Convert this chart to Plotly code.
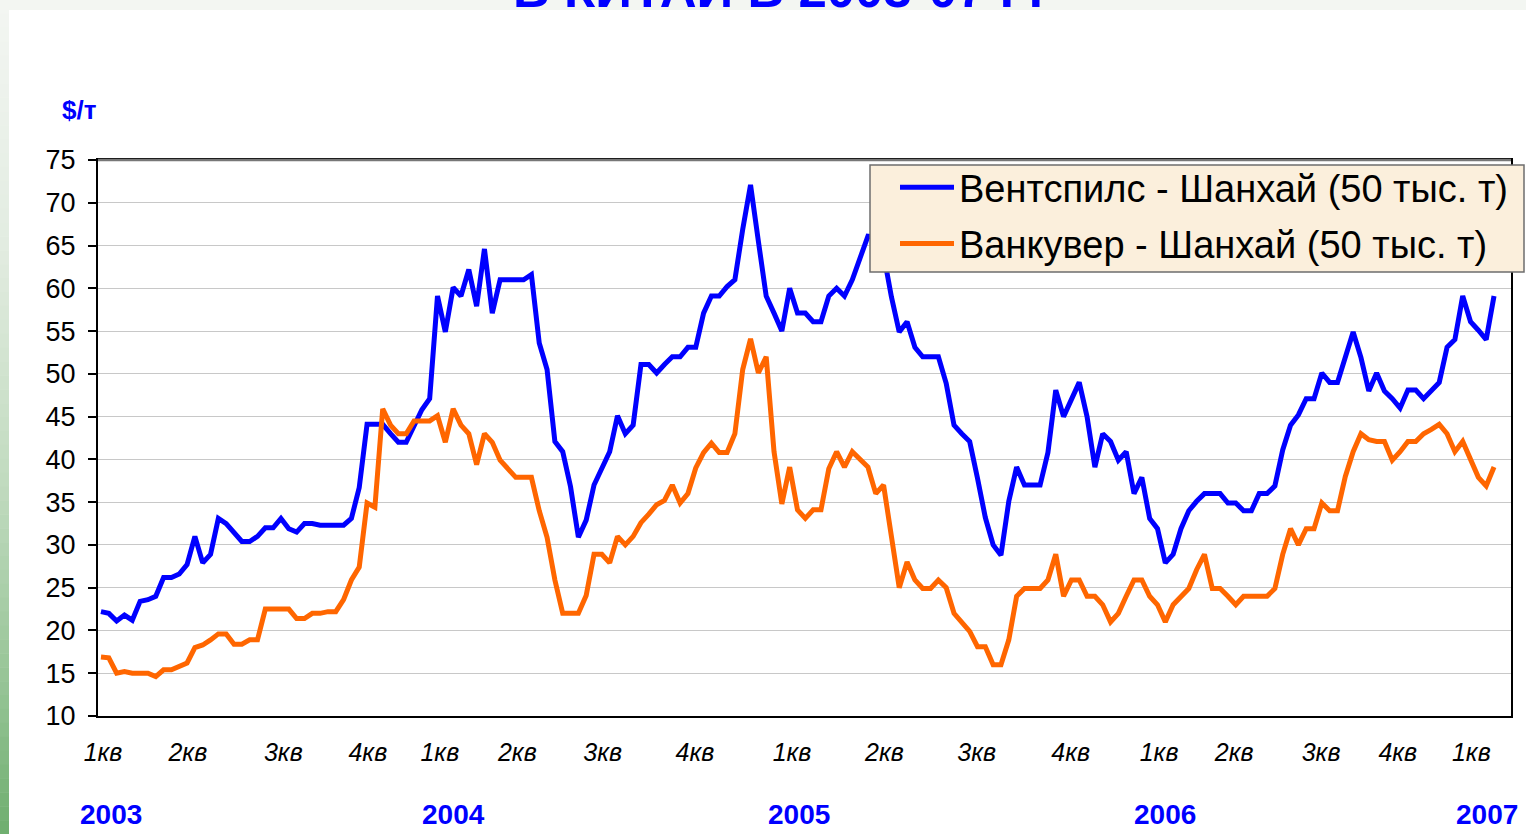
import plotly.graph_objects as go

# ---------------- data ----------------
ventspils = [
    22.2, 22.0, 21.1, 21.8, 21.2, 23.4, 23.6, 24.0, 26.2, 26.2, 26.6, 27.7, 31.0, 27.9, 28.9, 33.1, 32.5, 31.5,
    30.4, 30.4, 31.0, 32.0, 32.0, 33.1, 31.9, 31.5, 32.5, 32.5, 32.3, 32.3, 32.3, 32.3, 33.1, 36.7, 44.1,
    44.1, 44.1, 43.0, 42.0, 42.0, 43.9, 45.8, 47.1, 59.1, 54.9, 60.1, 59.1, 62.2, 57.9, 64.6,
    57.1, 61.0, 61.0, 61.0, 61.0, 61.6, 53.6, 50.5, 42.1, 40.9, 36.8, 30.9, 32.9, 37.0, 38.9, 40.9, 45.1, 43.0,
    44.0, 51.1, 51.1, 50.1, 51.1, 52.0, 52.0, 53.1, 53.1, 57.1, 59.1, 59.1, 60.2, 61.0, 66.9, 72.1, 65.5, 59.1,
    57.1, 55.0, 60.0, 57.1, 57.1, 56.1, 56.1, 59.1, 60.0, 59.1, 61.0, 63.6, 66.1,
    66.0, 64.0, 59.0,
    54.9, 56.1, 53.1, 52.0, 52.0, 52.0, 48.9, 44.0, 43.0, 42.1, 37.8, 33.2, 30.0, 28.8, 35.1, 39.1, 37.0, 37.0,
    37.0, 40.8, 48.1, 45.0, 46.9, 49.0, 45.0, 39.1, 43.0, 42.1, 39.9, 40.9, 36.0, 37.9, 33.1, 31.9, 27.9, 28.9,
    31.9, 34.0, 35.1, 36.0, 36.0, 36.0, 34.9, 34.9, 34.0, 34.0, 36.0, 36.0, 36.9, 41.1, 44.0, 45.2, 47.1, 47.1,
    50.1, 49.0, 49.0, 51.9, 54.9, 51.9, 48.0, 50.1, 48.0, 47.1, 46.0, 48.1, 48.1, 47.1, 48.0, 49.0, 53.1, 54.0,
    59.1, 56.1, 55.1, 54.0, 59.1,
]

vancouver = [
    16.9, 16.8, 15.0, 15.2, 15.0, 15.0, 15.0, 14.6, 15.4, 15.4, 15.8, 16.2, 18.0, 18.3, 18.9, 19.6, 19.6, 18.4,
    18.4, 18.9, 18.9, 22.5, 22.5, 22.5, 22.5, 21.4, 21.4, 22.0, 22.0, 22.2, 22.2, 23.6, 25.9, 27.4, 34.9,
    34.4, 45.9, 44.0, 43.0, 43.0, 44.5, 44.5, 44.5, 45.1, 42.0, 45.9, 44.0, 43.0, 39.4, 43.0,
    42.0, 39.9, 39.0, 37.9, 37.9, 37.9, 34.0, 30.9, 25.9, 22.0, 22.0, 22.0, 24.1, 28.9, 28.9, 27.9, 31.0, 30.0,
    31.0, 32.6, 33.6, 34.7, 35.2, 37.0, 34.9, 36.0, 39.0, 40.8, 41.9, 40.8, 40.8, 43.0, 50.5, 54.1, 50.1, 52.0,
    40.9, 34.8, 39.1, 34.1, 33.1, 34.1, 34.1, 38.9, 40.9, 39.1, 40.9, 39.9, 39.1, 36.0, 37.0, 31.0,
    25.0, 28.0, 25.9, 24.9, 24.9, 25.9, 25.0, 22.0, 21.0, 19.9, 18.1, 18.1, 16.0, 16.0, 18.9, 24.0, 24.9, 24.9,
    24.9, 25.9, 28.9, 24.0, 25.9, 25.9, 24.0, 24.0, 23.0, 21.0, 22.0, 24.0, 25.9, 25.9, 24.0, 23.0, 21.0, 23.0,
    24.0, 24.9, 27.1, 28.9, 24.9, 24.9, 24.0, 23.0, 24.0, 24.0, 24.0, 24.0, 24.9, 28.9, 31.9, 30.0, 31.9, 31.9,
    34.9, 34.0, 34.0, 38.0, 40.9, 43.0, 42.3, 42.1, 42.1, 39.9, 40.9, 42.1, 42.1, 43.0, 43.5, 44.1, 43.0, 40.9,
    42.1, 39.9, 37.9, 36.9, 39.1,
]

week_index = list(range(len(ventspils)))

quarter_labels = ["1кв", "2кв", "3кв", "4кв", "1кв", "2кв", "3кв", "4кв", "1кв",
                  "2кв", "3кв", "4кв", "1кв", "2кв", "3кв", "4кв", "1кв"]
quarter_pos = [0.26, 11.1, 23.3, 34.1, 43.3, 53.2, 64.1, 75.9, 88.3,
               100.1, 111.9, 123.9, 135.2, 144.8, 155.9, 165.7, 175.1]
year_labels = ["2003", "2004", "2005", "2006", "2007"]
year_pos = [1.3, 45.0, 89.2, 136.0, 177.1]

y_ticks = list(range(10, 80, 5))

series_names = ["Вентспилс - Шанхай (50 тыс. т)", "Ванкувер - Шанхай (50 тыс. т)"]
series_colors = ["#0000ff", "#ff6600"]

FONT = "Liberation Sans, Arial, sans-serif"

# ---------------- geometry helpers ----------------
W, H = 1526, 834
L, R, T, B = 98, 15, 160, 118
PW, PH = W - L - R, H - T - B


def px_x(p):
    return (p - L) / PW


def px_y(p):
    return (H - B - p) / PH


fig = go.Figure()
for name, vals, col in zip(series_names, [ventspils, vancouver], series_colors):
    fig.add_trace(go.Scatter(
        x=week_index, y=vals, mode="lines", name=name,
        line=dict(color=col, width=5), legendgroup=name,
    ))

shapes = []
# top grey strip
shapes.append(dict(type="rect", xref="paper", yref="paper", x0=px_x(0), x1=px_x(W),
                   y0=px_y(10), y1=px_y(0), fillcolor="#f3f6f2", line=dict(width=0), layer="below"))
# left gradient strip
stops = [(0, (244, 246, 243)), (250, (226, 236, 224)), (500, (190, 217, 188)),
         (700, (146, 194, 146)), (834, (110, 174, 110))]


def col_at(yy):
    for (y0, c0), (y1, c1) in zip(stops[:-1], stops[1:]):
        if y0 <= yy <= y1:
            t = (yy - y0) / (y1 - y0)
            return "rgb(%d,%d,%d)" % tuple(round(a + (b - a) * t) for a, b in zip(c0, c1))
    return "rgb(%d,%d,%d)" % stops[-1][1]


nseg = 60
for k in range(nseg):
    ya, yb = H * k / nseg, H * (k + 1) / nseg
    shapes.append(dict(type="rect", xref="paper", yref="paper", x0=px_x(0), x1=px_x(9),
                       y0=px_y(yb + 0.5), y1=px_y(ya), fillcolor=col_at((ya + yb) / 2),
                       line=dict(width=0), layer="below"))
# darker top border of the plot area
shapes.append(dict(type="line", xref="paper", yref="paper", x0=0, x1=1, y0=1, y1=1,
                   line=dict(color="#777777", width=2.5)))
# legend box
shapes.append(dict(type="rect", xref="paper", yref="paper", x0=px_x(870), x1=px_x(1524),
                   y0=px_y(272), y1=px_y(165), fillcolor="#fbefdc",
                   line=dict(color="#6e6e6e", width=1.5), layer="above"))
fig.update_layout(shapes=shapes)

annotations = []
for lab, pos in zip(year_labels, year_pos):
    annotations.append(dict(x=pos, y=px_y(814), xref="x", yref="paper", text="<b>%s</b>" % lab,
                            showarrow=False, font=dict(family=FONT, size=28, color="#0000ff"),
                            xanchor="center", yanchor="middle"))
annotations.append(dict(x=px_x(79), y=px_y(110), xref="paper", yref="paper", text="<b>$/т</b>",
                        showarrow=False, font=dict(family=FONT, size=26, color="#0000ff"),
                        xanchor="center", yanchor="middle"))
annotations.append(dict(x=px_x(785), y=px_y(20), xref="paper", yref="paper",
                        text="<b>В КИТАЙ В 2003-07 ГГ</b>",
                        showarrow=False, font=dict(family=FONT, size=51, color="#0000ff"),
                        xanchor="center", yanchor="bottom"))

fig.update_layout(
    width=W, height=H,
    margin=dict(l=L, r=R, t=T, b=B, pad=0),
    paper_bgcolor="white", plot_bgcolor="white",
    font=dict(family=FONT, color="black"),
    annotations=annotations,
    showlegend=True,
    legend=dict(x=px_x(895), y=px_y(156), xanchor="left", yanchor="top",
                bgcolor="rgba(0,0,0,0)", borderwidth=0,
                font=dict(family=FONT, size=38, color="black"),
                traceorder="grouped", tracegroupgap=4, itemwidth=54),
    xaxis=dict(range=[-0.38, 180.17], showgrid=False, zeroline=False,
               showline=True, linecolor="black", linewidth=1.5, mirror=True,
               tickmode="array", tickvals=quarter_pos,
               ticktext=["<i>%s</i>" % q for q in quarter_labels],
               ticks="", tickfont=dict(family=FONT, size=25, color="black"),
               ticklabelstandoff=13),
    yaxis=dict(range=[10, 75], tickmode="array", tickvals=y_ticks,
               showgrid=True, gridcolor="#c8c8c8", gridwidth=1, zeroline=False,
               showline=True, linecolor="black", linewidth=2, mirror=True,
               ticks="outside", ticklen=8, tickwidth=1.5, tickcolor="black",
               tickfont=dict(family=FONT, size=27, color="black"),
               ticklabelstandoff=7),
)

fig.write_html("out.html", config={"displayModeBar": False},
               post_script="document.body.style.margin='0';")
